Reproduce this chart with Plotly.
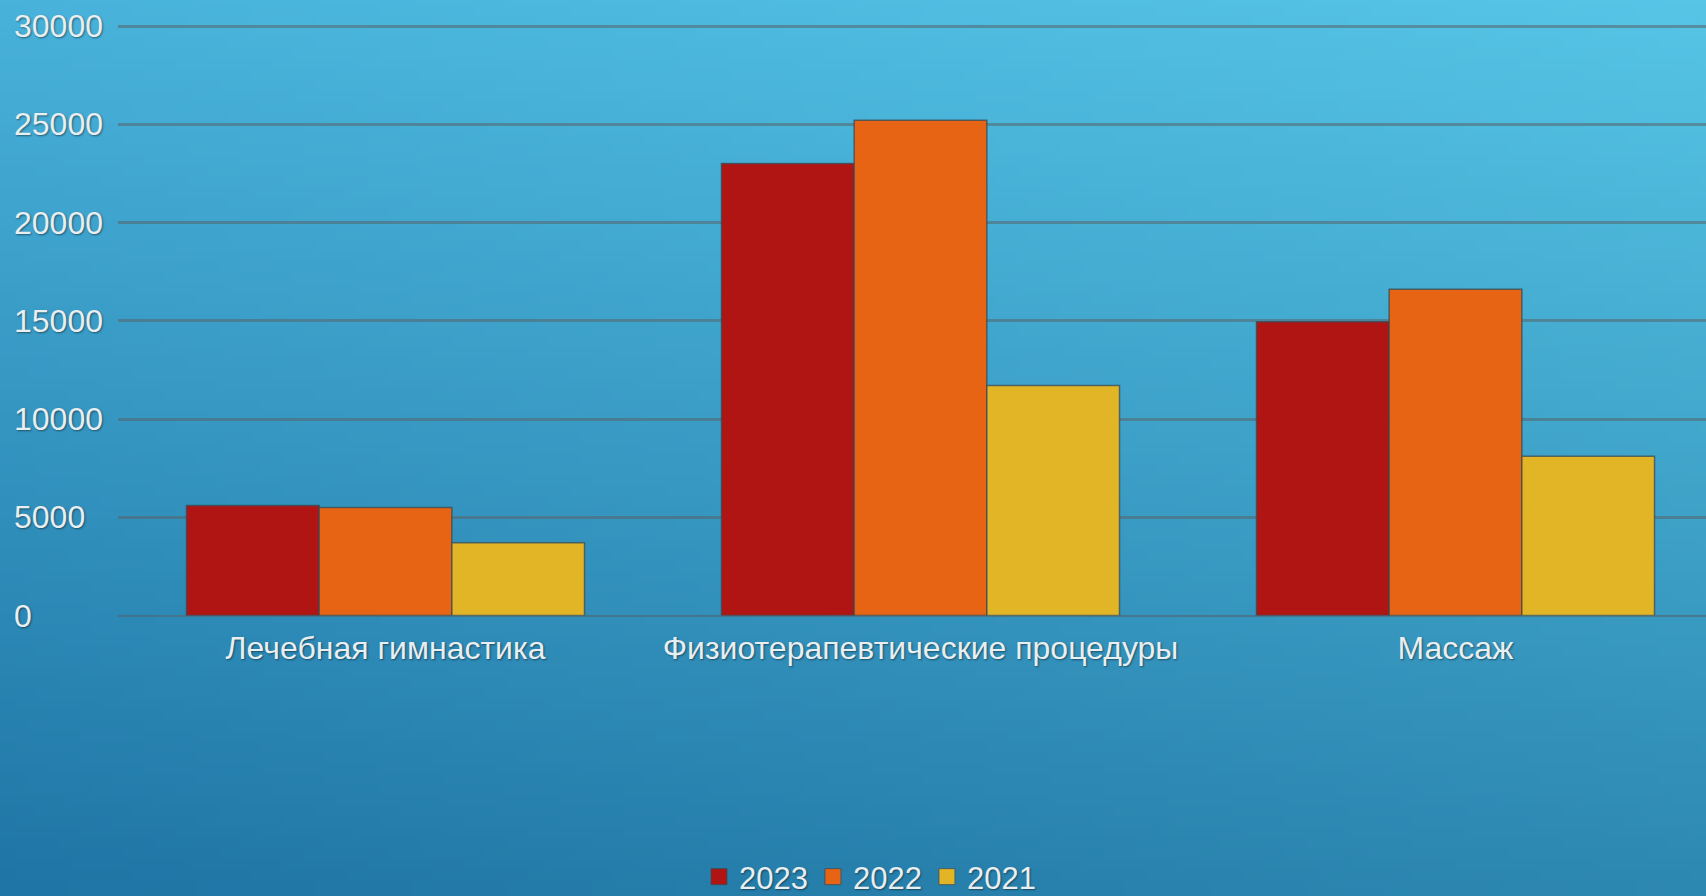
import base64
import struct
import zlib
import plotly.graph_objects as go

# ---- data ----
categories = ["Лечебная гимнастика", "Физиотерапевтические процедуры", "Массаж"]
years = ["2023", "2022", "2021"]
values_2023 = [5600, 23000, 14950]
values_2022 = [5500, 25200, 16600]
values_2021 = [3700, 11700, 8100]
y_ticks = [0, 5000, 10000, 15000, 20000, 25000, 30000]

series = [values_2023, values_2022, values_2021]
colors = ["#b01514", "#e66414", "#e2b527"]

W, H = 1706, 896


# ---- background gradient image (bilinear: light top-right, dark bottom-left) ----
def gradient_png(w, h):
    tl = (72, 178, 218)
    tr = (86, 197, 230)
    bl = (31, 117, 165)
    rows = []
    for j in range(h):
        fy = j / (h - 1)
        row = bytearray([0])
        for i in range(w):
            fx = i / (w - 1)
            for k in range(3):
                v = tl[k] + (tr[k] - tl[k]) * fx + (bl[k] - tl[k]) * fy
                row.append(max(0, min(255, int(round(v)))))
        rows.append(bytes(row))
    raw = b"".join(rows)

    def chunk(tag, data):
        return (struct.pack(">I", len(data)) + tag + data
                + struct.pack(">I", zlib.crc32(tag + data) & 0xFFFFFFFF))

    png = (b"\x89PNG\r\n\x1a\n"
           + chunk(b"IHDR", struct.pack(">IIBBBBB", w, h, 8, 2, 0, 0, 0))
           + chunk(b"IDAT", zlib.compress(raw, 9))
           + chunk(b"IEND", b""))
    return "data:image/png;base64," + base64.b64encode(png).decode()


bg = gradient_png(160, 84)

FONT = "Liberation Sans, Arial, sans-serif"
TXT = "#e9eef1"
SHADOW = "1px 1px 2px rgba(0,0,0,0.45)"
OUTLINE = "rgba(55,75,85,0.75)"

fig = go.Figure()
for name, vals, col in zip(years, series, colors):
    fig.add_trace(go.Bar(
        name=name, x=categories, y=vals, showlegend=False,
        marker=dict(color=col, line=dict(color=OUTLINE, width=1.5)),
    ))
# legend entries with larger square swatches
for name, col in zip(years, colors):
    fig.add_trace(go.Scatter(
        name=name, x=[None], y=[None], mode="markers", hoverinfo="skip",
        marker=dict(symbol="square", size=16, color=col,
                    line=dict(color=OUTLINE, width=1)),
    ))

x0 = 118 / W
y_top = 30060
px_per_unit = (615.5 - 26) / 30000.0
top_px = 615.5 - y_top * px_per_unit

fig.update_layout(
    width=W, height=H,
    margin=dict(l=0, r=0, t=0, b=0, autoexpand=False),
    paper_bgcolor="#2f8fc2",
    plot_bgcolor="rgba(0,0,0,0)",
    barmode="group", bargap=0.256, bargroupgap=0,
    font=dict(family=FONT, color=TXT, size=32, shadow=SHADOW),
    images=[dict(source=bg, xref="paper", yref="paper", x=0, y=1,
                 sizex=1, sizey=1, xanchor="left", yanchor="top",
                 sizing="stretch", layer="below")],
    xaxis=dict(
        domain=[x0, 1],
        range=[-0.5, -0.5 + (W - 118) / 535.0],
        automargin=False,
        showgrid=False, zeroline=False, showline=False,
        ticks="", ticklabelstandoff=10,
        tickfont=dict(size=32, color=TXT, family=FONT, shadow=SHADOW),
    ),
    yaxis=dict(
        domain=[1 - 615.5 / H, 1 - top_px / H],
        range=[0, y_top],
        automargin=False,
        tickvals=y_ticks, ticktext=[str(v) for v in y_ticks],
        side="right", anchor="free", position=13 / W,
        showgrid=True, gridcolor="rgba(85,100,105,0.55)", gridwidth=3,
        zeroline=True, zerolinecolor="rgba(85,100,105,0.6)", zerolinewidth=2,
        showline=False, ticks="",
        tickfont=dict(size=32, color=TXT, family=FONT, shadow=SHADOW),
    ),
    showlegend=True,
    legend=dict(
        orientation="h", x=870 / W, xanchor="center",
        y=1 - 877 / H, yanchor="middle",
        bgcolor="rgba(0,0,0,0)", itemwidth=30, borderwidth=0,
        font=dict(size=31, color=TXT, family=FONT, shadow=SHADOW),
        traceorder="normal",
    ),
)

fig.write_html(
    "out.html",
    config={"displayModeBar": False},
    post_script="document.body.style.margin='0';document.body.style.overflow='hidden';",
)
